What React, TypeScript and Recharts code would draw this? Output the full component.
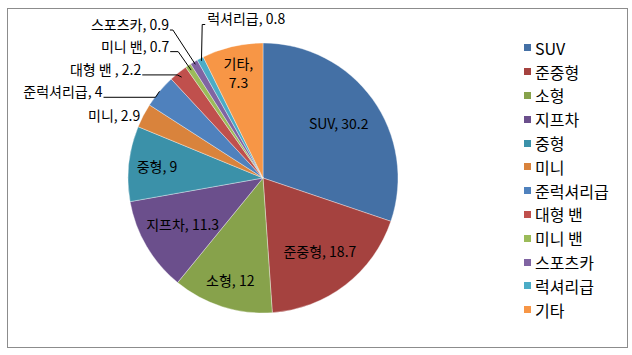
import React from "react";
import { PieChart, Pie, Cell } from "recharts";

// 차종별 비중 (%)
const categories = ["SUV", "준중형", "소형", "지프차", "중형", "미니", "준럭셔리급", "대형 밴", "미니 밴", "스포츠카", "럭셔리급", "기타"];
const shares = [30.2, 18.7, 12, 11.3, 9, 2.9, 4, 2.2, 0.7, 0.9, 0.8, 7.3];
const labelNames = ["SUV", "준중형", "소형", "지프차", "중형", "미니", "준럭셔리급", "대형 밴 ", "미니 밴", "스포츠카", "럭셔리급", "기타"];

const colors = [
  "#4470A5", "#A5423F", "#87A24B", "#6B4F8C", "#3B91A9", "#D9833C",
  "#4F81BD", "#C0504D", "#9BBB59", "#8064A2", "#4BACC6", "#F79646",
];

const data = categories.map((c, i) => ({ name: c, value: shares[i], label: labelNames[i] }));

const RAD = Math.PI / 180;
const FONT = "'Noto Sans CJK KR', 'Noto Sans', sans-serif";

// label placement tweaks (inside: radius factor, outside: leader elbow offsets)
const insideRadius: Record<string, number> = {
  SUV: 0.69, 준중형: 0.69, 소형: 0.8, 지프차: 0.69, 중형: 0.79, 기타: 0.8,
};
const outside: Record<string, { start: number; ex: number; ey: number; run: number }> = {
  미니: { start: 1.0, ex: 0, ey: 0, run: 0 },
  준럭셔리급: { start: 1.0, ex: -4, ey: 6, run: -52 },
  "대형 밴": { start: 0.96, ex: -1, ey: 2, run: -35 },
  "미니 밴": { start: 0.96, ex: -10, ey: -14, run: -8 },
  스포츠카: { start: 0.98, ex: -21, ey: -32, run: -3 },
  럭셔리급: { start: 0.98, ex: 2, ey: -34, run: 3 },
};

const renderLabel = (props: any) => {
  const { cx, cy, midAngle, outerRadius, payload, value } = props;
  const name = payload.name;
  const text = `${payload.label}, ${value}`;
  const cos = Math.cos(-midAngle * RAD);
  const sin = Math.sin(-midAngle * RAD);
  if (insideRadius[name] !== undefined) {
    const r = outerRadius * insideRadius[name];
    const x = cx + r * cos;
    const y = cy + r * sin;
    if (name === "기타") {
      return (
        <g>
          <text x={x} y={y - 4} textAnchor="middle" fontFamily={FONT} fontSize={14} fill="#000">
            {`${payload.label},`}
          </text>
          <text x={x} y={y + 15} textAnchor="middle" fontFamily={FONT} fontSize={14} fill="#000">
            {value}
          </text>
        </g>
      );
    }
    return (
      <text x={x} y={y + 5} textAnchor="middle" fontFamily={FONT} fontSize={14} fill="#000">
        {text}
      </text>
    );
  }
  const o = outside[name];
  const sx = cx + outerRadius * o.start * cos;
  const sy = cy + outerRadius * o.start * sin;
  if (o.run === 0) {
    return (
      <text x={sx - 3} y={sy + 5} textAnchor="end" fontFamily={FONT} fontSize={14} fill="#000">
        {text}
      </text>
    );
  }
  const exx = cx + outerRadius * cos + o.ex;
  const eyy = cy + outerRadius * sin + o.ey;
  const tx = exx + o.run;
  const anchor = o.run < 0 ? "end" : "start";
  return (
    <g>
      <polyline points={`${sx},${sy} ${exx},${eyy} ${tx},${eyy}`} fill="none" stroke="#000" strokeWidth={1} />
      <text x={tx + (o.run < 0 ? -1 : 2)} y={eyy} textAnchor={anchor} fontFamily={FONT} fontSize={14} fill="#000">
        {text}
      </text>
    </g>
  );
};

const LegendBox = () => (
  <div style={{ position: "absolute", left: 524, top: 36, fontFamily: FONT, fontSize: 16, color: "#000" }}>
    {data.map((d, i) => (
      <div key={d.name} style={{ display: "flex", alignItems: "center", height: 23.8 }}>
        <span style={{ width: 7, height: 7, background: colors[i], marginRight: 4, display: "inline-block" }} />
        <span style={{ lineHeight: "16px" }}>{d.name}</span>
      </div>
    ))}
  </div>
);

export default function App() {
  return (
    <div style={{ position: "relative", width: 632, height: 355, background: "#fff" }}>
      <style>{`body{margin:0}`}</style>
      <div
        style={{
          position: "absolute",
          left: 7,
          top: 8,
          width: 619,
          height: 338,
          border: "1px solid #8c8c8c",
        }}
      />
      <div style={{ position: "absolute", left: 0, top: 0 }}>
        <PieChart width={632} height={355} margin={{ top: 0, right: 0, bottom: 0, left: 0 }}>
          <Pie
            data={data}
            dataKey="value"
            nameKey="name"
            cx={263}
            cy={178}
            outerRadius={135}
            startAngle={90}
            endAngle={-270}
            stroke="rgba(255,255,255,0.45)"
            strokeWidth={0.8}
            label={renderLabel}
            labelLine={false}
            isAnimationActive={false}
          >
            {data.map((d, i) => (
              <Cell key={d.name} fill={colors[i]} />
            ))}
          </Pie>
        </PieChart>
      </div>
      <LegendBox />
    </div>
  );
}
